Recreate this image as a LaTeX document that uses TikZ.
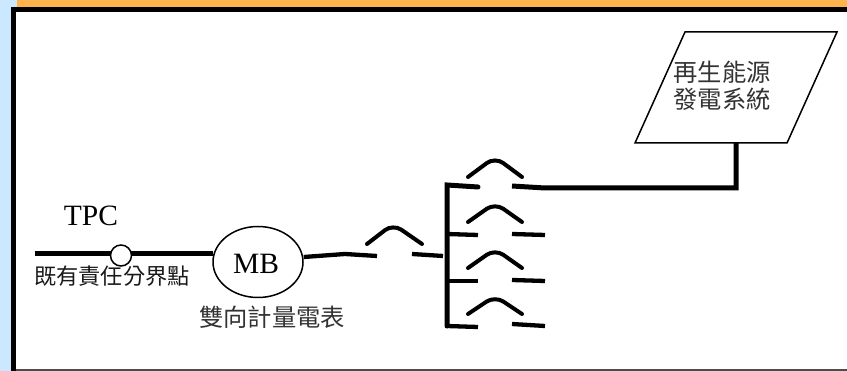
\documentclass[tikz,border=0pt]{standalone}
\usepackage{fontspec}
\setmainfont{Liberation Serif}
\newfontfamily\cjk{Noto Sans CJK TC}
\usetikzlibrary{shapes.geometric}
\definecolor{skyband}{HTML}{CCE8FF}
\definecolor{orangeband}{HTML}{FFB34D}
\tikzset{
  wire/.style={line width=5pt,black},
  blade/.style={line width=4pt,black,rounded corners=10pt,line cap=round},
  stub/.style={line width=4.3pt,black},
  latinlabel/.style={inner sep=0pt,font=\fontsize{29.5}{30}\selectfont},
  cjklabel/.style={inner sep=0pt,font=\cjk\fontsize{22.2}{23}\selectfont,text=black!90},
  cjkwide/.style={inner sep=0pt,font=\cjk\fontsize{24.3}{25}\selectfont,text=black!80,align=center},
  outline/.style={draw=black,line width=1.5pt,fill=white}
}
\begin{document}
\begin{tikzpicture}[x=1pt,y=-1pt]
\useasboundingbox (0,0) rectangle (847,371);
% frame
\fill[skyband] (0,0) rectangle (847,371);
\fill[orangeband] (17,0) rectangle (847,8);
\fill[black] (11,7) rectangle (847,371);
\fill[white] (16,12) rectangle (847,369);
\fill[black!70] (16,369) rectangle (847,371);
% terminals
\coordinate (gridend) at (35,254);
\coordinate (m1) at (345,254);
\coordinate (sa) at (377,256);
\coordinate (sb) at (412,254);
\coordinate (sc) at (443,256);
\coordinate (bustop) at (447,185);
\coordinate (busbot) at (447,326);
\coordinate (r1a) at (478,187);
\coordinate (r1b) at (512,186);
\coordinate (r1c) at (545,188);
\coordinate (corner) at (736,188);
\coordinate (pvfoot) at (736,143);
\coordinate (b2) at (447,234);
\coordinate (b3) at (447,281);
% main line and meter
\draw[wire] (gridend) -- (213,254);
\node[circle,outline,minimum size=21pt,inner sep=0pt] (tp) at (121,255.5) {};
\node[ellipse,outline,minimum width=90pt,minimum height=71pt,inner sep=0pt] (mb) at (258,262) {};
\node[latinlabel] (mbtext) at (256,264) {MB};
\node[latinlabel] (tpc) at (91,216) {TPC};
\node[cjklabel] (boundary) at (112,276) {既有責任分界點};
\node[cjkwide] (meter) at (272,317) {雙向計量電表};
\draw[stub] (mb.east |- 0,257) -- (m1) -- (sa);
\draw[blade] (367,244) -- (393,224) -- (422,244);
\draw[stub] (sb) -- (sc);
% bus
\draw[wire,line cap=round] (busbot) -- (bustop) -- (r1a);
\draw[stub] (b2) -- (478,235);
\draw[stub] (b3) -- (478,281);
\draw[stub] (busbot) -- (478,327);
% branches
\draw[blade] (468,177) -- (495,157) -- (522,177);
\draw[blade] (468,222) -- (495,203) -- (522,222);
\draw[blade] (468,268) -- (495,249) -- (522,268);
\draw[blade] (468,314) -- (495,296) -- (522,314);
\draw[stub] (512,234) -- (545,235);
\draw[stub] (512,280) -- (545,281);
\draw[stub] (512,324) -- (545,326);
% PV connection
\draw[wire] (r1b) -- (r1c) -- (corner) -- (pvfoot);
% parallelogram
\draw[draw=black,line width=1.5pt,fill=white,line join=miter] (685,32) -- (837,32) -- (787,143) -- (635,143) -- cycle;
\node[cjkwide] (pv) at (722,72) {再生能源};
\node[cjkwide] (pv2) at (722,99) {發電系統};
\end{tikzpicture}
\end{document}
